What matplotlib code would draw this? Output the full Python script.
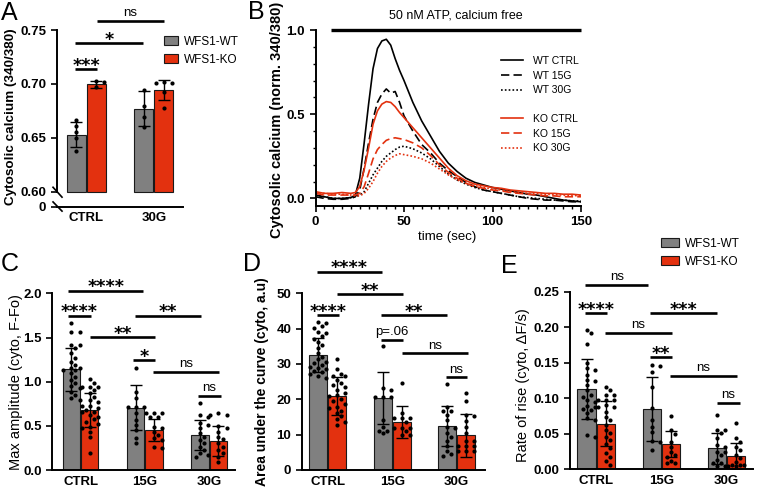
import numpy as np
import matplotlib

matplotlib.use("Agg")
import matplotlib.pyplot as plt  # noqa: E402
from matplotlib.patches import Patch  # noqa: E402
from matplotlib.ticker import MultipleLocator  # noqa: E402

W, H = 757, 491
GRAY = "#808080"
RED = "#E3310F"
EDGE = "#1a1a1a"

# ---------------- data ----------------
cats_a = ["CTRL", "30G"]
cats = ["CTRL", "15G", "30G"]

# A: resting cytosolic calcium (340/380)
a_wt_mean = [0.653, 0.677]
a_ko_mean = [0.6995, 0.694]
a_wt_sd = [0.012, 0.0163]
a_ko_sd = [0.0035, 0.0093]
a_wt_pts = [[0.6664, 0.6608, 0.6555, 0.6493, 0.6375], [0.6942, 0.6794, 0.6694, 0.6601]]
a_ko_pts = [[0.7029, 0.7015, 0.6975], [0.7005, 0.7020, 0.7005, 0.6927, 0.6778]]

# B: normalized traces
b_time = [0, 5, 10, 15, 20, 22.5, 25, 27.5, 30, 32.5, 35, 37.5, 40, 42.5, 45, 47.5, 50,
          55, 60, 65, 70, 75, 80, 85, 90, 95, 100, 105, 110, 115, 120, 125, 130, 135,
          140, 145, 150]
wt_ctrl = [0.02, 0.01, 0.0, 0.0, 0.005, 0.02, 0.12, 0.33, 0.56, 0.77, 0.89, 0.935, 0.945,
           0.91, 0.83, 0.76, 0.70, 0.57, 0.46, 0.37, 0.28, 0.21, 0.16, 0.12, 0.095, 0.08,
           0.065, 0.055, 0.045, 0.035, 0.025, 0.02, 0.01, 0.0, -0.01, -0.015, -0.02]
wt_15g = [0.01, 0.0, -0.005, -0.005, 0.0, 0.01, 0.05, 0.18, 0.33, 0.47, 0.57, 0.62, 0.65,
          0.625, 0.635, 0.57, 0.49, 0.40, 0.32, 0.27, 0.21, 0.165, 0.13, 0.095, 0.07, 0.05,
          0.04, 0.03, 0.02, 0.01, 0.0, -0.005, -0.01, -0.01, -0.015, -0.02, -0.02]
wt_30g = [0.02, 0.01, 0.0, 0.0, 0.005, 0.01, 0.02, 0.04, 0.09, 0.14, 0.18, 0.22, 0.25,
          0.27, 0.29, 0.305, 0.31, 0.295, 0.27, 0.235, 0.19, 0.145, 0.11, 0.085, 0.065,
          0.05, 0.04, 0.03, 0.02, 0.01, 0.005, 0.0, -0.005, -0.01, -0.01, -0.015, -0.015]
ko_ctrl = [0.04, 0.03, 0.03, 0.035, 0.03, 0.035, 0.07, 0.17, 0.30, 0.44, 0.52, 0.56, 0.575,
           0.57, 0.545, 0.51, 0.48, 0.42, 0.36, 0.30, 0.24, 0.18, 0.135, 0.105, 0.085,
           0.075, 0.065, 0.06, 0.05, 0.045, 0.04, 0.035, 0.03, 0.03, 0.025, 0.025, 0.02]
ko_15g = [0.03, 0.02, 0.02, 0.02, 0.02, 0.02, 0.03, 0.07, 0.15, 0.235, 0.29, 0.32, 0.345,
          0.355, 0.36, 0.355, 0.35, 0.33, 0.30, 0.255, 0.20, 0.155, 0.12, 0.09, 0.07, 0.06,
          0.05, 0.045, 0.035, 0.03, 0.025, 0.02, 0.015, 0.015, 0.01, 0.01, 0.01]
ko_30g = [0.035, 0.03, 0.025, 0.025, 0.02, 0.015, 0.015, 0.03, 0.06, 0.10, 0.15, 0.19, 0.22,
          0.24, 0.255, 0.265, 0.26, 0.25, 0.235, 0.21, 0.175, 0.14, 0.11, 0.09, 0.075,
          0.065, 0.055, 0.05, 0.04, 0.035, 0.03, 0.028, 0.025, 0.022, 0.02, 0.018, 0.015]
atp_start, atp_end = 8.5, 150

# C: max amplitude
c_wt_mean = [1.141, 0.706, 0.397]
c_ko_mean = [0.680, 0.453, 0.329]
c_wt_sd = [0.242, 0.256, 0.174]
c_ko_sd = [0.197, 0.123, 0.172]
c_wt_pts = [
    [1.663, 1.557, 1.557, 1.417, 1.417, 1.38, 1.32, 1.266, 1.228, 1.19, 1.152, 1.152,
     1.134, 1.134, 1.096, 1.058, 1.021, 0.983, 0.953, 0.926, 0.889, 0.851, 0.813, 0.794],
    [1.16, 0.889, 0.813, 0.718, 0.718, 0.718, 0.643, 0.567, 0.51, 0.454, 0.359, 0.302],
    [0.756, 0.624, 0.597, 0.529, 0.51, 0.472, 0.416, 0.378, 0.34, 0.31, 0.265, 0.227,
     0.197, 0.171, 0.151],
]
c_ko_pts = [
    [1.028, 0.983, 0.937, 0.937, 0.937, 0.907, 0.869, 0.832, 0.794, 0.775, 0.726, 0.726,
     0.699, 0.68, 0.662, 0.662, 0.624, 0.605, 0.575, 0.548, 0.522, 0.491, 0.472, 0.435,
     0.378, 0.197],
    [0.643, 0.643, 0.643, 0.605, 0.605, 0.491, 0.472, 0.435, 0.397, 0.359, 0.34, 0.265,
     0.246],
    [0.65, 0.624, 0.624, 0.499, 0.472, 0.435, 0.378, 0.348, 0.302, 0.265, 0.227, 0.189,
     0.151, 0.095],
]

# D: area under the curve
d_wt_mean = [32.5, 20.3, 12.45]
d_ko_mean = [21.0, 13.5, 9.8]
d_wt_sd = [4.75, 7.4, 5.8]
d_ko_sd = [5.3, 4.55, 6.0]
d_wt_pts = [
    [41.97, 41.5, 40.75, 40.08, 39.1, 38.7, 37.9, 37.2, 36.3, 35.4, 34.4, 33.0, 32.1,
     31.3, 30.7, 30.2, 29.7, 29.2, 28.8, 28.5, 28.1, 27.6, 27.2, 26.6, 26.0],
    [35.2, 23.1, 22.6, 20.6, 20.6, 20.6, 14.1, 12.2, 10.9, 10.9, 10.4],
    [24.3, 17.9, 16.8, 16.8, 15.6, 14.1, 12.2, 11.75, 10.4, 9.3, 8.1, 6.7, 5.3, 4.4, 3.9],
]
d_ko_pts = [
    [31.3, 28.5, 27.2, 26.6, 26.6, 25.5, 24.7, 24.05, 23.4, 22.6, 21.9, 21.2, 20.8, 20.0,
     19.4, 18.7, 17.9, 17.45, 16.8, 16.04, 15.3, 14.3, 13.7, 12.7],
    [24.5, 16.2, 14.6, 14.6, 14.6, 13.7, 12.0, 12.0, 12.0, 10.9, 9.9, 9.9],
    [21.7, 19.6, 15.7, 15.4, 13.9, 12.2, 10.4, 8.1, 8.1, 6.7, 6.7, 6.7, 5.3, 5.3, 5.3],
]

# E: rate of rise
e_wt_mean = [0.113, 0.085, 0.0296]
e_ko_mean = [0.0638, 0.0356, 0.0192]
e_wt_sd = [0.042, 0.0448, 0.022]
e_ko_sd = [0.0317, 0.0188, 0.0183]
e_wt_pts = [
    [0.196, 0.1915, 0.176, 0.149, 0.142, 0.140, 0.133, 0.126, 0.125, 0.1185, 0.1117,
     0.105, 0.1022, 0.098, 0.0952, 0.0891, 0.0872, 0.0845, 0.0835, 0.079, 0.072, 0.0695,
     0.0484, 0.0451],
    [0.147, 0.145, 0.1375, 0.1153, 0.0858, 0.0695, 0.06, 0.053, 0.04, 0.039, 0.0272],
    [0.0764, 0.0554, 0.0554, 0.0516, 0.0436, 0.0342, 0.0319, 0.0249, 0.0249, 0.0202,
     0.0131, 0.0084, 0.0084, 0.004, 0.004],
]
e_ko_pts = [
    [0.1153, 0.1117, 0.1047, 0.1047, 0.0976, 0.0976, 0.0976, 0.0906, 0.0872, 0.0872,
     0.081, 0.074, 0.0695, 0.0624, 0.0554, 0.0507, 0.046, 0.0413, 0.0356, 0.0295, 0.0225,
     0.0178, 0.0122, 0.006],
    [0.0756, 0.0554, 0.0498, 0.039, 0.0319, 0.0249, 0.0202, 0.0178, 0.012, 0.0084, 0.0084],
    [0.0647, 0.0436, 0.039, 0.0319, 0.0272, 0.0202, 0.0155, 0.0108, 0.006, 0.006, 0.006,
     0.004, 0.004],
]

# significance brackets: (x_start, x_end, y, label)
a_stats = [(-0.165, 0.16, 0.7138, "***"), (-0.165, 0.839, 0.7379, "*"),
           (0.16, 1.149, 0.7584, "ns")]
c_stats = [(-0.19, 0.977, 2.03, "****"), (-0.19, 0.159, 1.748, "****"),
           (0.848, 1.869, 1.748, "**"), (0.148, 1.159, 1.503, "**"),
           (0.812, 1.159, 1.247, "*"), (1.132, 2.154, 1.114, "ns"),
           (1.832, 2.18, 0.843, "ns")]
d_stats = [(-0.172, 0.836, 56.1, "****"), (0.138, 1.162, 49.7, "**"),
           (-0.163, 0.178, 43.9, "****"), (0.825, 1.845, 43.9, "**"),
           (0.825, 1.162, 36.8, "p=.06"), (1.147, 2.171, 33.0, "ns"),
           (1.829, 2.155, 26.2, "ns")]
e_stats = [(-0.172, 0.802, 0.2596, "ns"), (-0.172, 0.162, 0.2197, "****"),
           (0.828, 1.854, 0.2197, "***"), (0.135, 1.162, 0.1924, "ns"),
           (0.828, 1.171, 0.1577, "**"), (1.135, 2.162, 0.1314, "ns"),
           (1.854, 2.212, 0.0938, "ns")]

TICK_FS = 9.5
plt.rcParams.update({
    "font.family": ["Liberation Sans", "DejaVu Sans"],
    "font.size": 9,
    "axes.linewidth": 1.4,
    "xtick.major.width": 1.2,
    "ytick.major.width": 1.2,
    "xtick.major.size": 4,
    "ytick.major.size": 4,
    "xtick.minor.width": 1.0,
    "ytick.minor.width": 1.0,
    "xtick.minor.size": 2.5,
    "ytick.minor.size": 2.5,
    "xtick.labelsize": TICK_FS,
    "ytick.labelsize": TICK_FS,
})

fig = plt.figure(figsize=(W / 100, H / 100), dpi=100)


def add_box(left, top, right, bottom):
    ax = fig.add_axes([left / W, 1 - bottom / H, (right - left) / W, (bottom - top) / H])
    ax.spines[["top", "right"]].set_visible(False)
    return ax, right - left, bottom - top


def swarm_x(values, ppx, ppy, dot_px=4.8, half_px=9.0):
    vals = np.asarray(values, float)
    steps = [0]
    k = 1
    while k * dot_px * 0.85 <= half_px:
        steps += [k, -k]
        k += 1
    placed = []
    out = np.zeros(len(vals))
    for i in np.argsort(-vals):
        y = vals[i] * ppy
        best, best_d = 0.0, -1.0
        for s in steps:
            x = s * dot_px * 0.85
            d = min([np.hypot(x - px, y - py) for px, py in placed], default=np.inf)
            if d >= dot_px:
                best = x
                break
            if d > best_d:
                best, best_d = x, d
        placed.append((best, y))
        out[i] = best / ppx
    return out


def bar_panel(ax, wpx, hpx, ncat, width, xlim, ylim, bottom,
              wt_mean, ko_mean, wt_sd, ko_sd, wt_pts, ko_pts):
    x = np.arange(ncat)
    off = width / 2 + 0.008
    ax.set_xlim(*xlim)
    ax.set_ylim(*ylim)
    ppx = wpx / (xlim[1] - xlim[0])
    ppy = hpx / (ylim[1] - ylim[0])
    for sign, means, sds, pts, col in ((-1, wt_mean, wt_sd, wt_pts, GRAY),
                                       (1, ko_mean, ko_sd, ko_pts, RED)):
        xs = x + sign * off
        ax.bar(xs, np.array(means) - bottom, width, bottom=bottom, color=col,
               edgecolor=EDGE, linewidth=0.8, zorder=1)
        for xc, p in zip(xs, pts):
            jit = swarm_x(p, ppx, ppy)
            ax.scatter(xc + jit, p, s=9, color="black", linewidths=0, zorder=3,
                       clip_on=False)
        ax.errorbar(xs, means, yerr=sds, fmt="none", ecolor="black", elinewidth=1.0,
                    capsize=4, capthick=1.0, zorder=4)
    ax.tick_params(axis="x", length=0, pad=4)


def add_stats(ax, stats):
    for x0, x1, y, label in stats:
        ax.plot([x0, x1], [y, y], color="black", lw=1.9, clip_on=False,
                solid_capstyle="butt")
        if label.startswith("*"):
            ax.annotate(label, xy=((x0 + x1) / 2, y), xytext=(0, -1.2),
                        textcoords="offset points", ha="center", va="baseline",
                        fontsize=12.5, fontweight="bold", family=["DejaVu Sans"],
                        annotation_clip=False)
        else:
            ax.annotate(label, xy=((x0 + x1) / 2, y), xytext=(0, 3.5),
                        textcoords="offset points", ha="center", va="baseline",
                        fontsize=9.5, annotation_clip=False)


# ---------------- panel A ----------------
axA, wA, hA = add_box(56.7, 30, 183.3, 206.7)
a_low = 0.586
bar_panel(axA, wA, hA, 2, 0.28, (-0.436, 1.434), (a_low, 0.75), 0.60,
          a_wt_mean, a_ko_mean, a_wt_sd, a_ko_sd, a_wt_pts, a_ko_pts)
axA.spines["left"].set_bounds(0.60, 0.75)
axA.set_yticks([a_low, 0.60, 0.65, 0.70, 0.75], ["0", "0.60", "0.65", "0.70", "0.75"],
               fontweight="bold")
axA.set_xticks(range(2), cats_a, fontweight="bold")
for (xa, ya), (xb, yb) in (((-0.029, 0.11), (0.042, 0.054)),
                           ((-0.029, 0.027), (0.042, -0.025))):
    axA.plot([xa, xb], [ya, yb], transform=axA.transAxes, color="black", lw=1.2,
             clip_on=False)
axA.set_ylabel("Cytosolic calcium (340/380)", fontweight="bold", fontsize=9.7)
axA.yaxis.set_label_coords(-0.31, 0.51)
add_stats(axA, a_stats)

# ---------------- panel B ----------------
axB, wB, hB = add_box(315.5, 30, 581, 206)
styles = [(wt_ctrl, "black", "-", "WT CTRL"), (wt_15g, "black", (0, (5, 2.5)), "WT 15G"),
          (wt_30g, "black", (0, (1, 1.3)), "WT 30G"), (ko_ctrl, RED, "-", "KO CTRL"),
          (ko_15g, RED, (0, (5, 2.5)), "KO 15G"), (ko_30g, RED, (0, (1, 1.3)), "KO 30G")]
handles = []
for y, col, ls, lab in styles:
    ln, = axB.plot(b_time, y, color=col, ls=ls, lw=1.2)
    handles.append(ln)
axB.plot([atp_start, atp_end], [1.0, 1.0], color="black", lw=2.4, clip_on=False,
         solid_capstyle="butt")
axB.text((atp_start + atp_end) / 2, 1.05, "50 nM ATP, calcium free", ha="center",
         va="bottom", fontsize=9)
axB.set_xlim(0, 150)
axB.set_ylim(-0.045, 1.0)
axB.set_xticks([0, 50, 100, 150], ["0", "50", "100", "150"], fontweight="bold")
axB.set_yticks([0, 0.5, 1.0], ["0.0", "0.5", "1.0"], fontweight="bold")
axB.xaxis.set_minor_locator(MultipleLocator(5))
axB.yaxis.set_minor_locator(MultipleLocator(0.1))
axB.set_xlabel("time (sec)", fontsize=9.5)
axB.xaxis.set_label_coords(0.494, -0.142)
axB.set_ylabel("Cytosolic calcium (norm. 340/380)", fontweight="bold", fontsize=10.5)
axB.yaxis.set_label_coords(-0.12, 0.489)
leg_kw = dict(loc="upper left", bbox_transform=fig.transFigure, frameon=False,
              borderpad=0, borderaxespad=0, handlelength=2.1, handletextpad=1.0,
              labelspacing=0.45, fontsize=7.5)
leg1 = axB.legend(handles[:3], [s[3] for s in styles[:3]],
                  bbox_to_anchor=(501 / W, 1 - 56 / H), **leg_kw)
axB.add_artist(leg1)
axB.legend(handles[3:], [s[3] for s in styles[3:]],
           bbox_to_anchor=(501 / W, 1 - 114 / H), **leg_kw)

# ---------------- panels C, D, E ----------------
axC, wC, hC = add_box(52.3, 293.3, 235, 470.2)
bar_panel(axC, wC, hC, 3, 0.27, (-0.44, 2.40), (0, 2.0), 0,
          c_wt_mean, c_ko_mean, c_wt_sd, c_ko_sd, c_wt_pts, c_ko_pts)
axC.set_yticks([0, 0.5, 1.0, 1.5, 2.0], ["0.0", "0.5", "1.0", "1.5", "2.0"],
               fontweight="bold")
axC.set_xticks(range(3), cats, fontweight="bold")
axC.set_ylabel("Max amplitude (cyto, F-Fo)", fontsize=10.5)
axC.yaxis.set_label_coords(-0.162, 0.5)
add_stats(axC, c_stats)

axD, wD, hD = add_box(301.7, 293.3, 485, 470)
bar_panel(axD, wD, hD, 3, 0.28, (-0.405, 2.44), (0, 50), 0,
          d_wt_mean, d_ko_mean, d_wt_sd, d_ko_sd, d_wt_pts, d_ko_pts)
axD.set_yticks(range(0, 51, 10), [str(v) for v in range(0, 51, 10)], fontweight="bold")
axD.set_xticks(range(3), cats, fontweight="bold")
axD.set_ylabel("Area under the curve (cyto, a.u)", fontweight="bold", fontsize=10)
axD.yaxis.set_label_coords(-0.176, 0.5)
add_stats(axD, d_stats)

axE, wE, hE = add_box(570, 291.7, 753, 469.3)
bar_panel(axE, wE, hE, 3, 0.28, (-0.403, 2.41), (0, 0.25), 0,
          e_wt_mean, e_ko_mean, e_wt_sd, e_ko_sd, e_wt_pts, e_ko_pts)
e_ticks = [0, 0.05, 0.10, 0.15, 0.20, 0.25]
axE.set_yticks(e_ticks, [f"{v:.2f}" for v in e_ticks], fontweight="bold")
axE.set_xticks(range(3), cats, fontweight="bold")
axE.set_ylabel("Rate of rise (cyto, \u0394F/s)", fontsize=10.5)
axE.yaxis.set_label_coords(-0.221, 0.475)
add_stats(axE, e_stats)

# ---------------- legends and panel letters ----------------
group_handles = [Patch(facecolor=GRAY, edgecolor=EDGE, linewidth=0.8),
                 Patch(facecolor=RED, edgecolor=EDGE, linewidth=0.8)]
fig.legend(group_handles, ["WFS1-WT", "WFS1-KO"], loc="upper left",
           bbox_to_anchor=(164 / W, 1 - 36 / H), frameon=False, borderpad=0,
           borderaxespad=0, handlelength=1.2, handleheight=0.8, handletextpad=0.5,
           labelspacing=0.5, fontsize=8.5)
fig.legend(group_handles, ["WFS1-WT", "WFS1-KO"], loc="upper left",
           bbox_to_anchor=(661 / W, 1 - 238 / H), frameon=False, borderpad=0,
           borderaxespad=0, handlelength=1.5, handleheight=0.8, handletextpad=0.5,
           labelspacing=0.5, fontsize=8.5)

for letter, xp, yp in (("A", 1, 1), ("B", 248, 0), ("C", 1, 252), ("D", 243, 252),
                       ("E", 501, 254)):
    fig.text(xp / W, 1 - yp / H, letter, fontsize=18, ha="left", va="top")

fig.savefig("out.png", dpi=100)
